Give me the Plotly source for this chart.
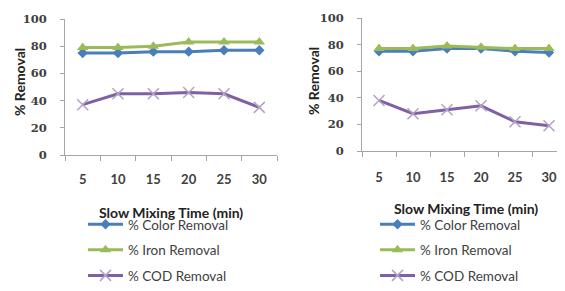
import plotly.graph_objects as go

times = ["5", "10", "15", "20", "25", "30"]
y_ticks = [0, 20, 40, 60, 80, 100]

left_color = [75, 75, 76, 76, 77, 77]
left_iron = [79, 79, 80, 83, 83, 83]
left_cod = [37, 45, 45, 46, 45, 35]

right_color = [75, 75, 77, 77, 75, 74]
right_iron = [77, 77, 79, 78, 77, 77]
right_cod = [38, 28, 31, 34, 22, 19]

series_names = ["% Color Removal", "% Iron Removal", "% COD Removal"]
x_title = "Slow Mixing Time (min)"
y_title = "% Removal"

# the page body adds an 8px margin, so the figure is offset by 8px
OX, OY = 8, 8
W, H = 565 - 2 * OX, 291 - OY


def px(x):
    return (x - OX) / W


def py(y):
    return 1 - (y - OY) / H


BLUE = "#4A7EBB"
GREEN = "#9BBB59"
PURPLE = "#7F60A3"
LPURPLE = "#B3A2C7"

fig = go.Figure()


def add_panel(color, iron, cod, xa, ya, leg):
    styles = [
        (color, BLUE, dict(symbol="diamond", size=8, color=BLUE)),
        (iron, GREEN, dict(symbol="triangle-up", size=10, color=GREEN)),
        (cod, PURPLE, dict(symbol="x-thin-open", size=11, color=LPURPLE,
                           line=dict(color=LPURPLE, width=1.5))),
    ]
    for i, (vals, lc, mk) in enumerate(styles):
        fig.add_trace(go.Scatter(
            x=times, y=vals, mode="lines+markers", name=series_names[i],
            line=dict(color=lc, width=3), marker=mk,
            xaxis=xa, yaxis=ya, legend=leg, legendgroup=leg + str(i),
            cliponaxis=False,
        ))


add_panel(left_color, left_iron, left_cod, "x", "y", "legend")
add_panel(right_color, right_iron, right_cod, "x2", "y2", "legend2")

xcommon = dict(type="category", showgrid=False, showline=True, linecolor="#A6A6A6",
               linewidth=1, ticks="outside", ticklen=5, tickcolor="#A6A6A6",
               tickson="boundaries", zeroline=False, automargin=False, tickangle=0,
               ticklabeloverflow="allow",
               tickfont=dict(family="Lato", size=13, color="#404040", weight="bold"))
ycommon = dict(range=[0, 100], tickvals=y_ticks, showgrid=False, showline=True,
               linecolor="#A6A6A6", linewidth=1, ticks="outside", ticklen=4,
               tickcolor="#A6A6A6", zeroline=False, ticklabelstandoff=11, automargin=False,
               tickfont=dict(family="DejaVu Serif", size=11.5, color="#404040", weight="bold"))

legcommon = dict(xref="paper", yref="paper", xanchor="left", yanchor="bottom",
                 bgcolor="rgba(0,0,0,0)", tracegroupgap=5, itemwidth=35,
                 traceorder="grouped", y=0,
                 font=dict(family="Lato", size=13.5, color="#404040"))

fig.update_layout(
    width=W, height=H,
    margin=dict(l=0, r=0, t=0, b=0),
    plot_bgcolor="white", paper_bgcolor="white",
    xaxis=dict(xcommon, domain=[px(65), px(277)], range=[-0.5, 5.5], anchor="y",
               ticklabelstandoff=12),
    yaxis=dict(ycommon, domain=[py(155), py(19)], anchor="x"),
    xaxis2=dict(xcommon, domain=[px(362), 1.0], range=[-0.5, 5.235], anchor="y2",
                ticklabelstandoff=14),
    yaxis2=dict(ycommon, domain=[py(151), py(18)], anchor="x2"),
    legend=dict(legcommon, x=px(83)),
    legend2=dict(legcommon, x=px(375)),
    showlegend=True,
)

title_font = dict(family="Lato", size=14, color="#222222", weight="bold")
for txt, x, y, ang in [(x_title, 171, 212, 0), (x_title, 466, 208, 0),
                       (y_title, 19, 82, -90), (y_title, 313, 81, -90)]:
    fig.add_annotation(text=txt, x=px(x), y=py(y), xref="paper", yref="paper",
                       xanchor="center", yanchor="middle", showarrow=False,
                       textangle=ang, font=title_font)

fig.write_html("out.html")
